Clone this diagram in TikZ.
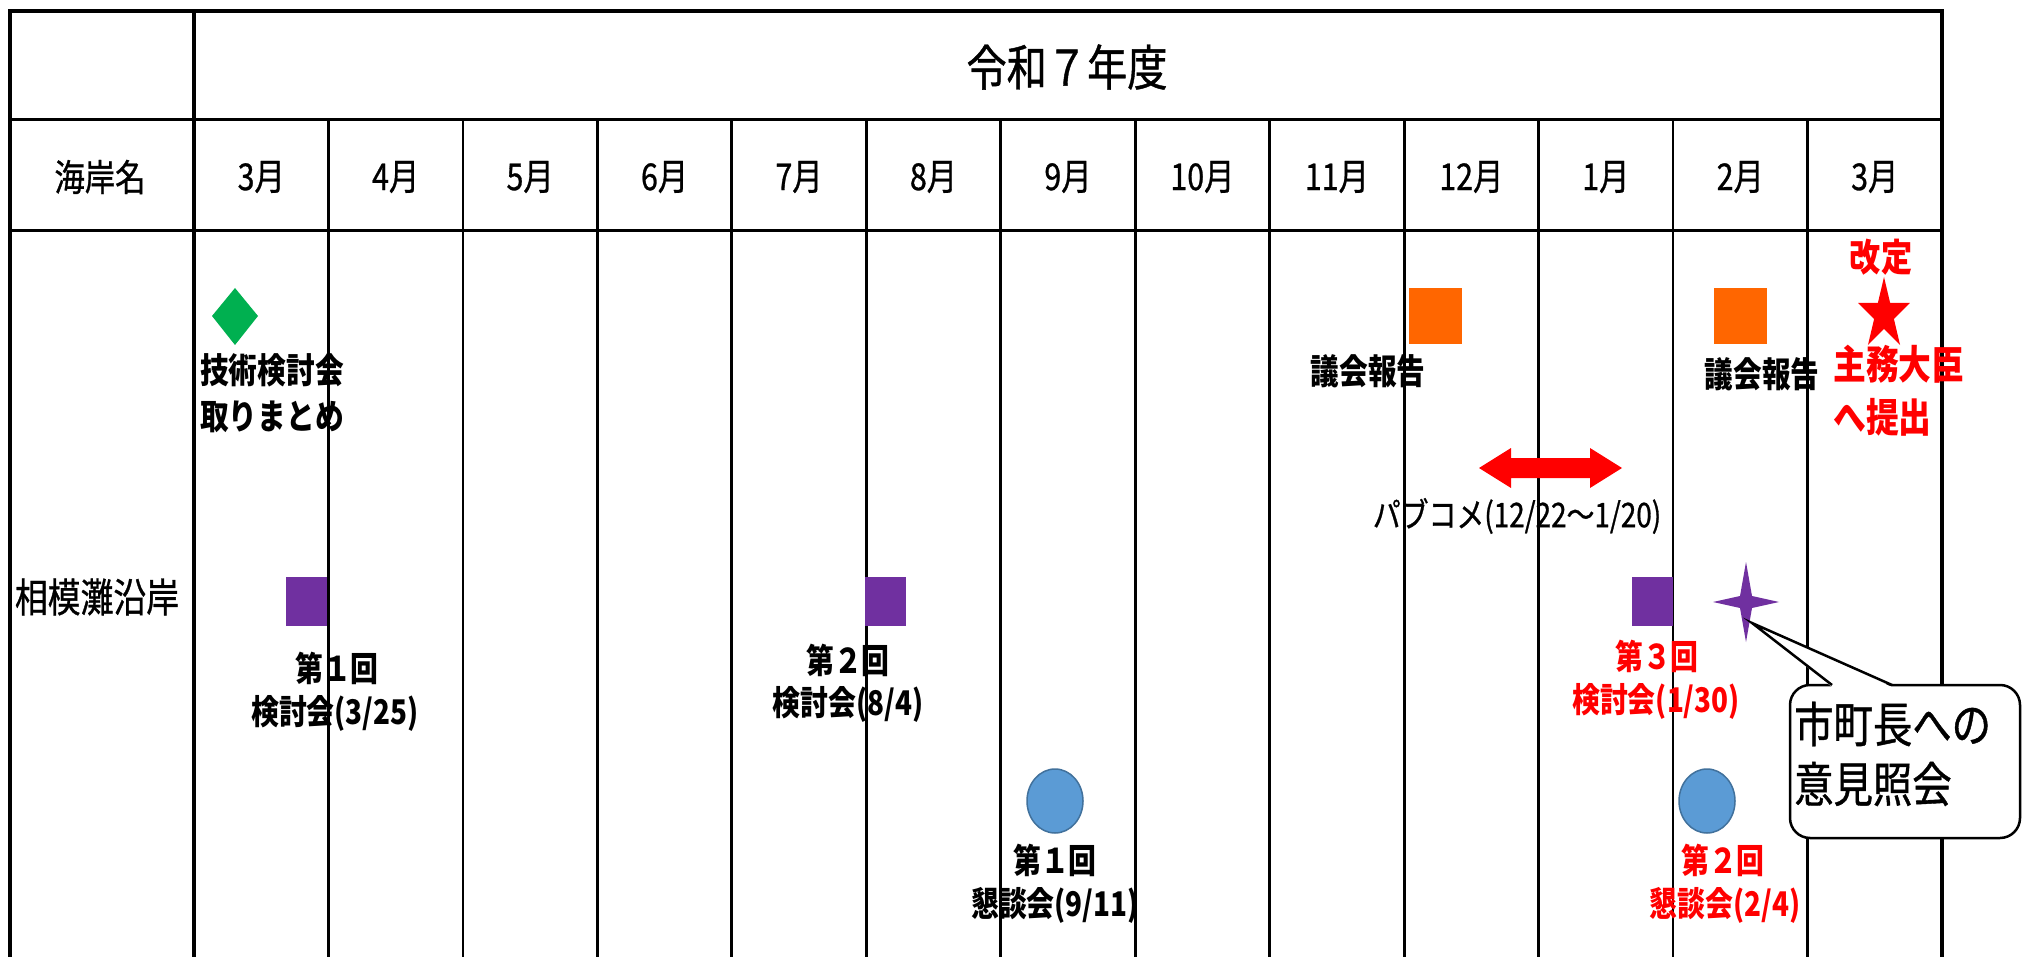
\documentclass[tikz,border=0pt]{standalone}
\usepackage{fontspec}
\newfontfamily\jp[FakeStretch=0.82]{Noto Sans CJK JP}
\newfontfamily\jpr[FakeStretch=0.82, FakeBold=0.8]{Noto Sans CJK JP}
\usetikzlibrary{shapes.geometric}
\definecolor{cpurple}{HTML}{7030A0}
\definecolor{corange}{HTML}{FF6600}
\definecolor{cgreen}{HTML}{00B050}
\definecolor{cblue}{HTML}{5B9BD5}
\definecolor{cbluedk}{HTML}{41719C}
\definecolor{cred}{HTML}{FF0000}
\newcommand\fsz[1]{\fontsize{#1}{#1}\selectfont}
\tikzset{
  outerline/.style={line width=3.5, line cap=rect},
  rowline/.style={line width=3},
  colline/.style={line width=2.8},
  txt/.style={inner sep=0, font=\jpr\fsz{#1}},
  btxt/.style={inner sep=0, font=\jp\bfseries\fsz{#1}},
  redtxt/.style={inner sep=0, text=cred, font=\jp\bfseries\fsz{#1}},
  sq/.style={inner sep=0, draw=none, minimum width=41, minimum height=49, fill=cpurple},
  osq/.style={inner sep=0, draw=none, minimum width=53, minimum height=56, fill=corange},
  circ/.style={ellipse, inner sep=0, fill=cblue, draw=cbluedk, line width=1.5, minimum width=56, minimum height=64},
}
\begin{document}
\begin{tikzpicture}[x=1pt,y=-1pt]
\useasboundingbox (0,0) rectangle (2024,957);
\fill[white] (0,0) rectangle (2024,957);
% grid
\draw[rowline] (10,120) -- (1942,120);
\draw[rowline] (10,231) -- (1942,231);
\foreach \i in {1,...,12} \draw[colline] ({194+134.46*\i},120) -- ({194+134.46*\i},957);
\draw[outerline] (10,957) -- (10,11) -- (1942,11) -- (1942,957);
\draw[outerline] (194,11) -- (194,957);
% headers
\node[txt=49] (year) at (1067,67) {令和７年度};
\node[txt=37] (kaigan) at (100,177) {海岸名};
\foreach \m [count=\i from 0] in {3,4,5,6,7,8,9,10,11,12,1,2,3}
  \node[txt=37] (mon\i) at ({194+134.46*(\i+0.5)},177) {\m 月};
\node[txt=40] (sagami) at (97,597) {相模灘沿岸};
% green diamond
\fill[cgreen] (235,288) -- (258,316) -- (235,345) -- (212,316) -- cycle;
\coordinate (gd) at (235,316);
\node[btxt=35, anchor=west] (gd1) at (200,370) {技術検討会};
\node[btxt=35, anchor=west] (gd2) at (200,417) {取りまとめ};
% purple squares
\node[sq] (k1) at (306,601.5) {};
\node[btxt=34] (k1a) at (337,668) {第１回};
\node[btxt=34] (k1b) at (335,713) {検討会(3/25)};
\node[sq] (k2) at (885,601) {};
\node[btxt=34] (k2a) at (848,660) {第２回};
\node[btxt=34] (k2b) at (848,704) {検討会(8/4)};
\node[sq] (k3) at (1652,601.5) {};
\node[redtxt=34] (k3a) at (1657,656) {第３回};
\node[redtxt=34] (k3b) at (1656,701) {検討会(1/30)};
% blue circles
\node[circ] (c1) at (1055,801) {};
\node[btxt=34] (c1a) at (1055,860) {第１回};
\node[btxt=34] (c1b) at (1055,905) {懇談会(9/11)};
\node[circ] (c2) at (1707,801) {};
\node[redtxt=34] (c2a) at (1723,860) {第２回};
\node[redtxt=34] (c2b) at (1725,905) {懇談会(2/4)};
% orange squares
\node[osq] (g1) at (1435,316) {};
\node[btxt=35] (g1a) at (1368,371) {議会報告};
\node[osq] (g2) at (1740,316) {};
\node[btxt=35] (g2a) at (1762,374) {議会報告};
% red star
\begin{scope}[shift={(1884,314.6)}, x=27.3pt, y=37.6pt]
\fill[cred] (90:1) -- (126:.382) -- (162:1) -- (198:.382) -- (234:1) -- (270:.382) -- (306:1) -- (342:.382) -- (18:1) -- (54:.382) -- cycle;
\coordinate (st) at (0,0);
\end{scope}
\node[redtxt=38] (kaitei) at (1881,257) {改定};
\node[redtxt=40, anchor=west] (sm1) at (1833,364) {主務大臣};
\node[redtxt=40, anchor=west] (sm2) at (1833,417) {へ提出};
% public comment arrow
\fill[cred] (1479,468) -- (1511,448) -- (1511,458) -- (1590,458) -- (1590,448) -- (1622,468) -- (1590,488) -- (1590,478) -- (1511,478) -- (1511,488) -- cycle;
\coordinate (pc) at (1550,468);
\node[txt=34] (pca) at (1517,516) {パブコメ(12/22～1/20)};
% purple 4-point star
\fill[cpurple] (1746,562) -- (1752,596) -- (1779,602) -- (1752,608) -- (1746,642) -- (1740,608) -- (1713,602) -- (1740,596) -- cycle;
\coordinate (ps) at (1752,623);
% callout
\filldraw[fill=white, line width=2.5, rounded corners=20] (1790,685) rectangle (2020,838);
\fill[white] (ps) -- (1832,687) -- (1892,687) -- cycle;
\draw[line width=2.5, line join=miter] (1832,685) -- (ps) -- (1892,685);
\node[txt=48, anchor=west] (co1) at (1794,724) {市町長への};
\node[txt=48, anchor=west] (co2) at (1794,784) {意見照会};
\end{tikzpicture}
\end{document}
